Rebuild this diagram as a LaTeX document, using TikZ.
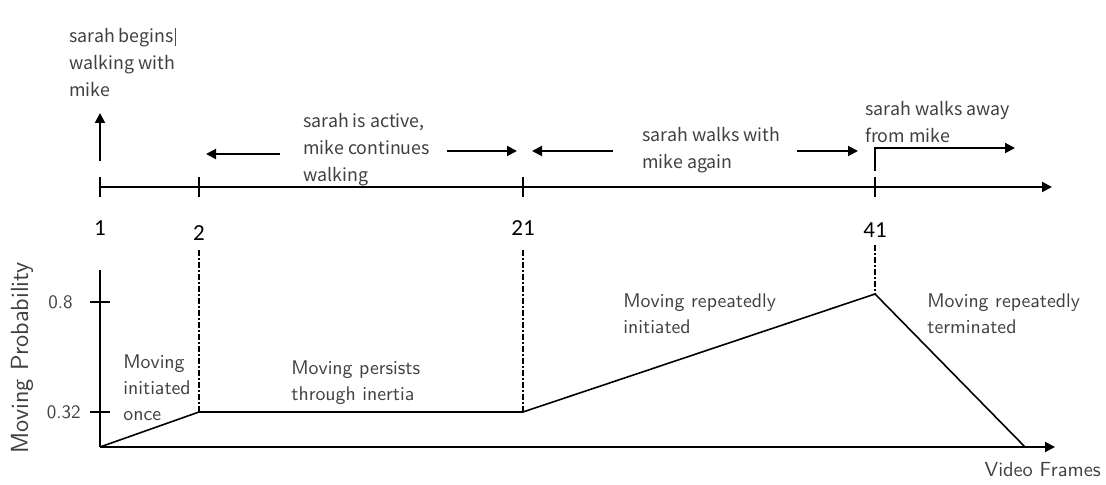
\documentclass[tikz,border=0pt]{standalone}
\usepackage{fontspec}
\usetikzlibrary{arrows.meta}
\newfontfamily\topfont{Noto Sans CJK SC}
\newfontfamily\numfont{Carlito}
\definecolor{txtgray}{HTML}{404040}
\begin{document}
\begin{tikzpicture}[x=0.5pt,y=-0.5pt,
  axis/.style={line width=1pt},
  arr/.style={line width=1pt,-{Triangle[length=5pt,width=5pt]}},
  tick/.style={line width=0.8pt},
  curve/.style={line width=0.8pt},
  guide/.style={line width=0.6pt,dash pattern=on 3pt off 1.2pt on 0.6pt off 1.2pt},
  toplbl/.style={font=\topfont\fontsize{8.9}{13.5}\selectfont,text=txtgray,align=left,anchor=west,inner sep=0pt},
  botlbl/.style={font=\sffamily\fontsize{9.9}{13}\selectfont,text=txtgray,align=left,anchor=west,inner sep=0pt},
  num/.style={font=\numfont\fontsize{11.5}{12}\selectfont,inner sep=0pt},
  yval/.style={font=\sffamily\fontsize{9.5}{11}\selectfont,text=txtgray,inner sep=0pt,anchor=east}]
\useasboundingbox (0,0) rectangle (1106,485);
% ---------- top timeline ----------
\coordinate (t1) at (100,187);
\coordinate (t2) at (199,187);
\coordinate (t21) at (523,187);
\coordinate (t41) at (875,187);
\coordinate (tend) at (1052,187);
\draw[arr] (t1) -- (tend);
\foreach \c in {t1,t2,t21,t41}{\draw[tick] ([yshift=5pt]\c) -- ([yshift=-5pt]\c);}
\node[num] (n1) at (100,228) {1};
\node[num] (n2) at (199,233) {2};
\node[num] (n21) at (523,228) {21};
\node[num] (n41) at (875,230) {41};
% up arrow at 1
\coordinate (u1) at (100,161);
\coordinate (u2) at (100,113);
\draw[arr] (u1) -- (u2);
\node[toplbl] (l1) at (69,63) {sarah begins\\walking with\\mike};
\draw[line width=0.4pt,black!70] (175,28) -- (175,46);
% arrows 2-21
\coordinate (a1s) at (280,154); \coordinate (a1e) at (206,154);
\coordinate (a2s) at (447,151); \coordinate (a2e) at (517,151);
\draw[arr] (a1s) -- (a1e);
\draw[arr] (a2s) -- (a2e);
\node[toplbl] (l2) at (303,150) {sarah is active,\\mike continues\\walking};
% arrows 21-41
\coordinate (b1s) at (613,151); \coordinate (b1e) at (532,151);
\coordinate (b2s) at (797,151); \coordinate (b2e) at (858,151);
\draw[arr] (b1s) -- (b1e);
\draw[arr] (b2s) -- (b2e);
\node[toplbl] (l3) at (642,150) {sarah walks with\\mike again};
% arrow after 41
\coordinate (c1) at (875,171); \coordinate (c2) at (875,148); \coordinate (c3) at (1015,148);
\draw[arr] (c1) -- (c2) -- (c3);
\node[toplbl] (l4) at (865,122) {sarah walks away\\from mike};
% ---------- bottom plot ----------
\coordinate (o) at (100,447);
\coordinate (ytop) at (100,270);
\coordinate (xend) at (1055,447);
\draw[axis] (ytop) -- (o);
\draw[arr] (o) -- (xend);
\coordinate (y8) at (100,302);
\coordinate (y32) at (100,412);
\draw[tick] ([xshift=-5pt]y8) -- ([xshift=5pt]y8);
\draw[tick] ([xshift=-5pt]y32) -- ([xshift=5pt]y32);
\node[yval] (v8) at (73,302) {0.8};
\node[yval] (v32) at (81,412) {0.32};
\node[font=\sffamily\fontsize{12.4}{14}\selectfont,text=txtgray,rotate=90,inner sep=0pt] (ylab) at (22,358) {Moving Probability};
\node[font=\sffamily\fontsize{10.2}{12}\selectfont,text=txtgray,anchor=east,inner sep=0pt] (xlab) at (1101,470) {Video Frames};
% curve
\coordinate (p0) at (100,447);
\coordinate (p1) at (199,412);
\coordinate (p2) at (523,412);
\coordinate (p3) at (875,294);
\coordinate (p4) at (1025,447);
\draw[curve] (p0) -- (p1);
\draw[line width=1.1pt] (p1) -- (p2);
\draw[curve] (p2) -- (p3) -- (p4);
% guides
\coordinate (g2) at (199,250);
\coordinate (g21) at (523,250);
\coordinate (g41) at (875,245);
\draw[guide] (g2) -- (p1);
\draw[guide] (g21) -- (p2);
\draw[guide] (g41) -- (p3);
% labels
\node[botlbl] (m1) at (123,388) {Moving\\initiated\\once};
\node[botlbl] (m2) at (291,383) {Moving persists\\through inertia};
\node[botlbl] (m3) at (623,314) {Moving repeatedly\\initiated};
\node[botlbl] (m4) at (927,314) {Moving repeatedly\\terminated};
\end{tikzpicture}
\end{document}
